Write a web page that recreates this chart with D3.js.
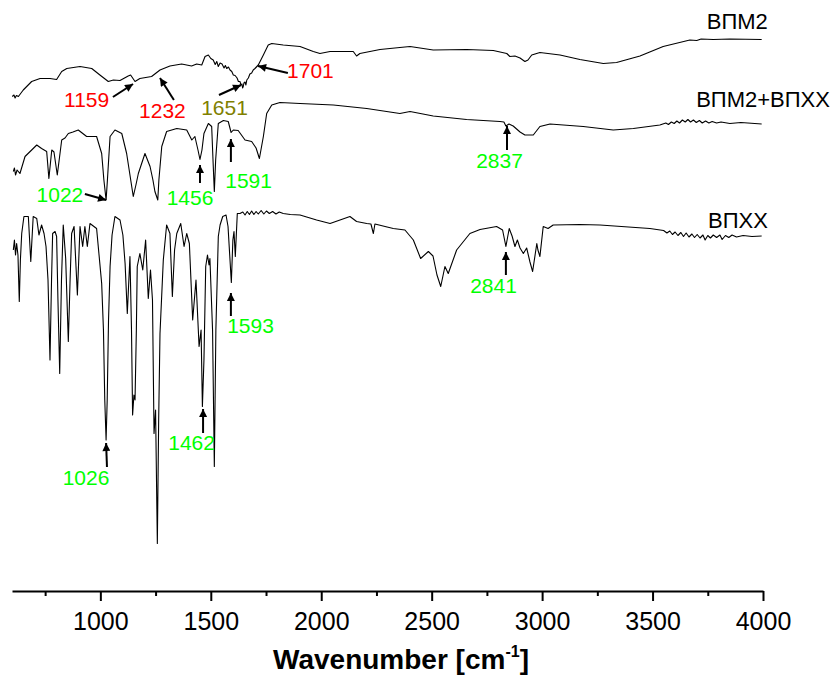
<!DOCTYPE html>
<html>
<head>
<meta charset="utf-8">
<script src="https://cdn.jsdelivr.net/npm/d3@7"></script>
<style>
  body { margin: 0; background: #fff; }
  text { font-family: Arial, "Liberation Sans", sans-serif; }
</style>
</head>
<body>
<svg id="chart" width="835" height="679"></svg>
<script>
// FTIR spectra, [wavenumber cm-1, signal (a.u., offset per trace)]
const vpm2 = [
  [601,98.9],[609,99.2],[614,98.6],[620,99.1],[629,98.9],[651,100.2],[689,101.9],[727,102.5],
  [772,102.5],[802,102.3],[825,103.9],[848,104.5],[908,104.9],[961,104.5],[998,103.2],[1036,101.9],
  [1059,102.2],[1089,102.1],[1126,103],[1137,103.2],[1157,101.9],[1179,102.5],[1232,102.9],[1270,104.2],
  [1315,105],[1368,105.4],[1413,105],[1436,105.4],[1459,105.2],[1474,106.9],[1489,107.2],[1500,106.5],
  [1511,106.2],[1520,105.3],[1527,105.9],[1534,104.9],[1542,105.6],[1551,105.4],[1560,104.6],[1566,105.1],
  [1572,104.5],[1580,104.8],[1587,104.2],[1595,103.9],[1602,103.2],[1610,103.1],[1619,102.6],[1625,101.9],
  [1632,101.9],[1637,101.2],[1641,101.4],[1644,100.6],[1647,100.9],[1650,101.6],[1655,101.8],[1659,101.2],
  [1663,102.2],[1670,102.6],[1677,103.4],[1685,103.6],[1692,104.2],[1700,104.5],[1715,105.2],[1738,107.2],
  [1760,109.2],[1776,109.5],[1828,109.2],[1904,108.9],[1964,107.9],[1994,107.5],[2040,107.9],[2145,107.9],
  [2160,107],[2175,107.5],[2266,108.3],[2356,108.7],[2402,108.9],[2507,108.2],[2658,108.3],[2779,108.1],
  [2840,107.5],[2854,106.9],[2877,107],[2900,106.6],[2922,105.9],[2936,106.2],[2953,107.2],[2990,107.7],
  [3081,107.2],[3171,106.3],[3277,105.5],[3337,105.7],[3443,107],[3548,108.9],[3669,110.2],[3700,110.1],
  [3720,110.4],[3775,110.3],[3850,110.4],[3994,110.3]
];

const vpm2Vpxx = [
  [606,83.9],[611,84.6],[616,83.2],[623,84.2],[636,83.5],[659,86.9],[689,88.2],[712,89.2],
  [734,88.5],[757,87.9],[767,82.5],[780,88.2],[790,87.8],[805,83.2],[825,90.2],[840,90.6],
  [855,91.5],[876,91.8],[900,92.2],[938,90.9],[983,90.9],[1006,87.5],[1016,82.2],[1026,78.2],
  [1032,82.2],[1044,90.9],[1066,92.2],[1097,91.5],[1119,87.5],[1134,83.2],[1149,78.9],[1161,81.2],
  [1172,83.5],[1202,87.5],[1225,84.9],[1238,82.2],[1247,79.9],[1260,78.2],[1265,82.2],[1278,88.9],
  [1300,91.9],[1346,92.5],[1391,92.2],[1414,90.2],[1428,90.9],[1442,88.2],[1451,86.3],[1460,88.2],
  [1469,91.5],[1489,93.5],[1504,92.9],[1510,86.2],[1516,79.9],[1522,86.2],[1534,93.5],[1557,94.1],
  [1579,93.9],[1592,91.7],[1602,92.2],[1624,92.1],[1655,90.2],[1685,89.9],[1705,88.6],[1720,86.5],
  [1727,88.2],[1738,90.9],[1753,95.5],[1776,97.2],[1813,97.7],[1904,97.5],[2055,97.2],[2206,96.5],
  [2356,95.5],[2402,95.9],[2507,95],[2658,94.3],[2809,93.9],[2827,93.8],[2836,93],[2850,93.4],
  [2869,93],[2900,91.8],[2922,91.2],[2960,91.2],[2990,92.9],[3036,93.4],[3186,92.9],[3322,92.2],
  [3413,92.5],[3533,93.2],[3560,93.6],[3572,93.3],[3585,93.8],[3598,93.5],[3610,94],[3622,93.6],
  [3635,94.2],[3648,93.8],[3660,94.3],[3672,93.8],[3685,94.2],[3698,93.7],[3712,94.1],[3725,93.6],
  [3740,94],[3755,93.6],[3770,93.9],[3790,93.6],[3810,93.8],[3850,93.5],[3900,93.7],[3994,93.4]
];

const vpxx = [
  [606,68.2],[611,70.2],[616,67.2],[621,69.5],[627,67.2],[633,57.9],[638,66.2],[644,71.5],
  [654,74.9],[674,74.9],[685,65.9],[696,74.9],[712,74.5],[722,71.2],[734,73.2],[745,71.5],
  [754,68.9],[763,62.2],[772,46.2],[779,62.2],[784,71.5],[795,71.9],[802,70.9],[808,58.2],
  [816,43.5],[824,62.2],[832,73.2],[843,66.5],[855,49.9],[863,62.2],[870,71.5],[881,72.9],
  [896,59.2],[908,72.9],[920,68.9],[930,72.9],[941,68.9],[953,73.5],[983,72.5],[1006,61.5],
  [1014,52.2],[1020,38.2],[1026,30.2],[1031,38.2],[1037,54.2],[1044,64.9],[1053,71.2],[1066,74.9],
  [1089,74.2],[1102,71.2],[1112,65.5],[1122,55.5],[1134,66.9],[1141,52.2],[1146,35.2],[1152,39.2],
  [1157,38.2],[1163,52.2],[1167,64.9],[1179,67.5],[1192,64.2],[1205,70.2],[1217,58.5],[1227,64.2],
  [1236,58.2],[1243,31.5],[1250,36.2],[1258,9.5],[1264,34.2],[1270,51.5],[1285,66.2],[1300,73.2],
  [1315,71.5],[1326,58.9],[1336,68.2],[1346,71.5],[1364,73.5],[1379,68.9],[1391,71.5],[1403,69.5],
  [1418,54.2],[1433,62.2],[1447,48.9],[1456,52.2],[1462,36.9],[1469,46.2],[1477,64.9],[1485,67.2],
  [1492,65.2],[1496,66.5],[1508,52.2],[1516,24.9],[1523,52.2],[1534,70.9],[1542,73.2],[1554,74.9],
  [1569,75.2],[1578,72.9],[1593,61.7],[1600,70.2],[1605,71.9],[1611,66.9],[1620,75.5],[1632,75.5],
  [1645,75.8],[1655,75.2],[1665,75.9],[1675,75.3],[1685,76],[1695,75.3],[1705,75.9],[1715,75.4],
  [1728,76.1],[1740,75.4],[1752,76],[1765,75.5],[1780,75.9],[1795,75.4],[1810,75.8],[1828,75.5],
  [1860,75.3],[1904,75.2],[1979,74.2],[2040,73.5],[2130,74.9],
  [2160,73.9],[2206,73.5],[2225,73.4],[2236,71.5],[2243,73.4],[2326,72.5],[2379,72.2],[2417,70.2],
  [2450,66.5],[2485,67.9],[2506,67],[2524,63.2],[2541,60.9],[2560,64.9],[2575,63.5],[2613,68.2],
  [2673,71.5],[2719,72.3],[2794,72.9],[2821,72.2],[2836,68.9],[2851,72.5],[2864,71],[2877,68.9],
  [2888,70.2],[2900,68.6],[2915,67.5],[2930,68.6],[2945,65.8],[2957,63.9],[2976,69.5],[2981,68.2],
  [2990,66.9],[3005,72.9],[3027,72.5],[3050,73.2],[3171,73.3],[3262,73.2],[3488,72.5],[3550,72.1],
  [3565,71.6],[3578,72],[3590,71.3],[3602,71.8],[3615,71.1],[3628,71.7],[3640,70.9],[3652,71.6],
  [3665,70.8],[3678,71.4],[3690,70.7],[3702,71.3],[3715,70.6],[3728,71.2],[3738,70.2],[3750,71.1],
  [3762,70.6],[3775,71.2],[3790,70.7],[3805,71.2],[3815,70.3],[3830,71.1],[3845,70.7],[3860,71.2],
  [3880,70.8],[3910,71.1],[3950,70.9],[3994,71]
];

// series names, [wavenumber, value] of the label's right end / baseline
const seriesLabels = [
  { name: "ВПМ2", at: [4022, 112.4] },
  { name: "ВПМ2+ВПХХ", at: [4303, 96.8] },
  { name: "ВПХХ", at: [4022, 72.6] }
];

// band assignments: tip/tail of arrow, text centre/baseline
const bands = [
  { label: "1159", color: "#ff0000", tip: [1148, 101.4], tail: [1057, 98.8], text: [938, 96.8] },
  { label: "1232", color: "#ff0000", tip: [1270, 102.6], tail: [1333, 98.2], text: [1281, 94.6] },
  { label: "1651", color: "#808000", tip: [1637, 101.2], tail: [1537, 99.2], text: [1562, 95.2] },
  { label: "1701", color: "#ff0000", tip: [1714, 105.0], tail: [1849, 103.6], text: [1951, 102.6] },
  { label: "1022", color: "#00ff00", tip: [1026, 78.2], tail: [930, 79.4], text: [817, 77.9] },
  { label: "1456", color: "#00ff00", tip: [1451, 85.2], tail: [1451, 81.6], text: [1406, 77.2] },
  { label: "1591", color: "#00ff00", tip: [1591, 90.4], tail: [1591, 85.8], text: [1671, 80.6] },
  { label: "2837", color: "#00ff00", tip: [2841, 93.0], tail: [2841, 88.2], text: [2807, 84.6] },
  { label: "1026", color: "#00ff00", tip: [1026, 29.6], tail: [1030, 24.8], text: [935, 21.2] },
  { label: "1462", color: "#00ff00", tip: [1465, 36.4], tail: [1465, 31.6], text: [1413, 28.2] },
  { label: "1593", color: "#00ff00", tip: [1591, 59.6], tail: [1591, 55.0], text: [1680, 51.6] },
  { label: "2841", color: "#00ff00", tip: [2836, 67.8], tail: [2836, 63.2], text: [2780, 59.6] }
];

const majorTicks = [1000, 1500, 2000, 2500, 3000, 3500, 4000];
const minorTicks = [750, 1250, 1750, 2250, 2750, 3250, 3750];

const svg = d3.select("#chart");

const x = d3.scaleLinear().domain([600, 4000]).range([12, 763]);
const y = d3.scaleLinear().domain([0, 118.2]).range([591, 0]);

// arrow head
svg.append("defs").append("marker")
  .attr("id", "head")
  .attr("viewBox", "0 0 10 10")
  .attr("refX", 10).attr("refY", 5)
  .attr("markerWidth", 10).attr("markerHeight", 8)
  .attr("markerUnits", "userSpaceOnUse")
  .attr("orient", "auto")
  .append("path")
  .attr("d", "M0,0L10,5L0,10Z")
  .attr("fill", "#000");

// spectra
const line = d3.line().x(d => x(d[0])).y(d => y(d[1]));
[vpm2, vpm2Vpxx, vpxx].forEach(s => {
  svg.append("path")
    .datum(s)
    .attr("d", line)
    .attr("fill", "none")
    .attr("stroke", "#000")
    .attr("stroke-width", 1.1)
    .attr("stroke-linejoin", "round");
});

svg.selectAll(".series-label")
  .data(seriesLabels)
  .join("text")
  .attr("class", "series-label")
  .attr("x", d => x(d.at[0]))
  .attr("y", d => y(d.at[1]))
  .attr("text-anchor", "end")
  .attr("font-size", 22)
  .text(d => d.name);

// annotations
const ann = svg.append("g");
ann.selectAll("line")
  .data(bands)
  .join("line")
  .attr("x1", d => x(d.tail[0])).attr("y1", d => y(d.tail[1]))
  .attr("x2", d => x(d.tip[0])).attr("y2", d => y(d.tip[1]))
  .attr("stroke", "#000")
  .attr("stroke-width", 2)
  .attr("marker-end", "url(#head)");

ann.selectAll("text")
  .data(bands)
  .join("text")
  .attr("x", d => x(d.text[0]))
  .attr("y", d => y(d.text[1]))
  .attr("text-anchor", "middle")
  .attr("font-size", 21)
  .attr("fill", d => d.color)
  .text(d => d.label);

// x axis
const axisY = 591;
const gMinor = svg.append("g")
  .attr("transform", `translate(0,${axisY})`)
  .call(d3.axisBottom(x).tickValues(minorTicks).tickSize(5).tickSizeOuter(0).tickFormat(""));
gMinor.select(".domain").remove();
gMinor.selectAll("line").attr("stroke-width", 2);

const gAxis = svg.append("g")
  .attr("transform", `translate(0,${axisY})`)
  .call(d3.axisBottom(x).tickValues(majorTicks).tickSize(10).tickSizeOuter(0).tickFormat(d3.format("d")));
gAxis.select(".domain").attr("stroke-width", 2);
gAxis.selectAll(".tick line").attr("stroke-width", 2);
gAxis.selectAll(".tick text")
  .attr("y", 39).attr("dy", 0)
  .attr("font-size", 25)
  .attr("font-family", "Arial, 'Liberation Sans', sans-serif")
  .attr("fill", "#000");

const title = svg.append("text")
  .attr("x", 401)
  .attr("y", 669)
  .attr("text-anchor", "middle")
  .attr("font-size", 28)
  .attr("font-weight", "bold");
title.append("tspan").text("Wavenumber [cm");
title.append("tspan").attr("font-size", 16).attr("dy", -12).text("-1");
title.append("tspan").attr("dy", 12).text("]");
</script>
</body>
</html>
